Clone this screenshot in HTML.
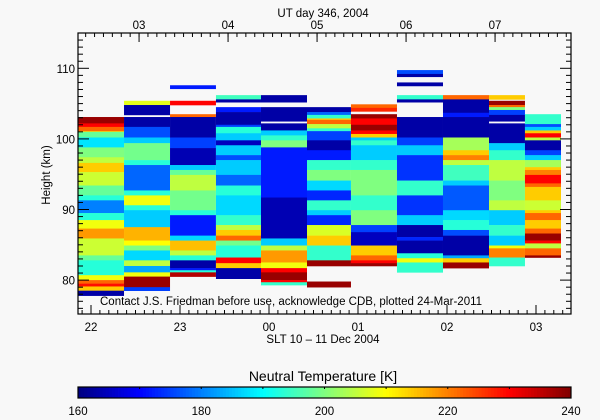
<!DOCTYPE html>
<html><head><meta charset="utf-8">
<style>
html,body{margin:0;padding:0;background:#f8f8f8;}
svg{display:block;font-family:"Liberation Sans",sans-serif;}
text{fill:#000;}
</style></head>
<body>
<svg id="chart" width="600" height="420" viewBox="0 0 600 420" xmlns="http://www.w3.org/2000/svg">
<rect x="0" y="0" width="600" height="420" fill="#f8f8f8"/>
<g id="cells"></g>
<g id="axes"></g>
<g id="cbar"></g>
<text x="323" y="17" font-size="11.5" text-anchor="middle">UT day 346, 2004</text>
<text x="100" y="305" font-size="11.5">Contact J.S. Friedman before use, acknowledge CDB, plotted 24-Mar-2011</text>
<text x="323" y="343" font-size="11.5" text-anchor="middle">SLT 10 – 11 Dec 2004</text>
<text transform="translate(50,175) rotate(-90)" font-size="11.5" text-anchor="middle">Height (km)</text>
<text x="323" y="381" font-size="14" text-anchor="middle">Neutral Temperature [K]</text>
</svg>
<script>
// Column start/end times (SLT hours, >24 = next day)
const colEdges = [21.854,22.371,22.888,23.404,23.910,24.427,24.921,25.438,25.955,26.472,26.876,27.281];
// Height boundaries (km, top -> bottom) per column
const bounds = [
 [103.1,102.2,101.7,101.1,101.0,100.2,98.8,97.4,96.6,95.3,93.4,92.0,91.3,89.5,88.5,87.3,85.9,83.5,82.8,80.7,80.0,79.5,79.1,78.5,77.8],
 [105.4,104.8,103.4,103.1,101.7,100.2,99.4,97.0,96.3,92.7,92.0,90.6,89.9,87.5,85.6,84.9,84.2,82.8,82.0,81.1,80.5,79.0,78.5],
 [107.6,107.1,105.4,104.8,103.5,103.1,100.2,98.7,96.3,95.6,94.9,92.7,89.9,89.2,86.3,85.6,84.2,83.5,82.8,81.7,81.4,81.1,80.5],
 [106.2,105.6,105.2,104.5,103.8,102.0,101.7,100.8,99.8,99.1,97.7,97.0,94.9,93.4,92.0,89.2,87.8,87.1,86.3,85.6,84.9,83.2,82.4,81.7,80.2],
 [106.2,105.2,104.5,102.5,102.2,101.2,100.5,99.8,98.8,91.7,85.9,84.9,84.2,82.5,81.7,81.1,80.0,79.7,79.3],
 [104.5,103.8,103.4,102.9,102.7,102.1,101.5,101.1,99.8,98.4,97.0,95.6,94.1,92.7,91.3,89.9,89.2,87.8,86.3,84.9,82.8,82.0,79.8,79.0],
 [104.9,104.4,103.9,103.5,102.9,102.0,101.2,100.7,100.2,99.8,99.1,97.0,95.6,92.0,89.9,87.8,86.8,84.9,83.5,82.8,82.4,82.0],
 [109.75,109.2,108.8,108.0,107.5,106.2,105.6,105.2,103.1,100.2,99.1,97.7,94.1,92.0,89.2,87.8,86.1,85.6,83.8,83.1,82.5,81.1],
 [106.2,105.6,103.7,103.1,100.2,98.4,97.7,97.0,96.3,94.1,93.4,89.9,88.5,87.1,86.3,83.5,83.1,82.5,81.7],
 [106.2,105.6,105.4,104.8,104.5,104.1,103.4,102.5,102.2,99.4,98.4,97.0,94.1,91.3,89.9,87.8,86.3,84.9,84.5,83.2,82.0],
 [103.5,102.1,101.7,101.2,100.8,100.2,99.8,98.4,97.7,97.0,96.0,95.6,94.9,93.7,93.2,91.3,89.9,89.5,88.5,87.3,86.6,85.6,85.2,84.5,83.5,83.2]
];
// Temperatures (K) for each layer between boundaries; null = no data
const temps = [
 [238,230,222,214,198,188,200,205,214,206,198,193,180,193,209,218,206,198,193,209,222,229,214,163],
 [208,163,null,163,176,186,199,193,178,193,209,193,186,216,210,200,187,205,183,209,238,175],
 [172,null,230,null,222,163,175,164,186,198,205,199,193,172,187,215,205,193,163,172,193,236],
 [195,163,null,172,163,175,193,186,165,186,176,186,178,193,187,194,205,214,222,199,193,230,214,163],
 [163,null,163,null,163,186,194,200,172,164,186,205,218,209,230,238,230,194],
 [163,178,194,214,222,205,194,175,163,172,194,200,187,173,194,186,173,207,214,194,238,null,238],
 [222,227,null,238,230,238,230,214,186,194,186,194,200,194,200,175,165,214,222,230,238],
 [176,163,null,163,null,194,163,null,163,175,186,174,194,174,186,163,173,163,193,209,194],
 [222,163,172,163,203,214,220,205,195,186,177,187,193,176,163,183,214,238],
 [214,null,238,222,200,175,163,null,163,186,194,205,200,205,186,194,186,209,220,194],
 [194,176,186,214,230,205,163,175,186,203,214,220,230,222,214,206,214,222,214,222,238,230,205,222,238]
];
const yMajorTicks = [80,90,100,110];
const sltTickHours = [22,23,24,25,26,27];
const sltTickLabels = ["22","23","00","01","02","03"];
const utTickHours = [3,4,5,6,7];
const utTickLabels = ["03","04","05","06","07"];
const cbarTicks = [160,180,200,220,240];

const NS="http://www.w3.org/2000/svg";
const X0=78,X1=571,Y0=33,Y1=314;
const KM_TOP=115,KM_BOT=75.2;
const TMIN=160,TMAX=240;
const UT_OFFSET=4.46;
function xs(h){return 91+(h-22)*89;}
function ys(km){return Y0+(KM_TOP-km)*(Y1-Y0)/(KM_TOP-KM_BOT);}
function clamp(v){return Math.max(0,Math.min(1,v));}
function jet(t){
  t=clamp(t);
  const r=clamp(1.5-Math.abs(4*t-3)),g=clamp(1.5-Math.abs(4*t-2)),b=clamp(1.5-Math.abs(4*t-1));
  return `rgb(${Math.round(r*255)},${Math.round(g*255)},${Math.round(b*255)})`;
}
function tcol(T){return jet((T-TMIN)/(TMAX-TMIN));}
function mk(tag,attrs,parent){const e=document.createElementNS(NS,tag);for(const k in attrs)e.setAttribute(k,attrs[k]);parent.appendChild(e);return e;}

const cells=document.getElementById('cells');
for(let c=0;c<bounds.length;c++){
  const xa=xs(colEdges[c]),xb=xs(colEdges[c+1]);
  for(let i=0;i<temps[c].length;i++){
    const T=temps[c][i]; if(T===null) continue;
    const ya=ys(bounds[c][i]),yb=ys(bounds[c][i+1]);
    const r=mk('rect',{x:xa.toFixed(2),y:ya.toFixed(2),width:(xb-xa).toFixed(2),height:(yb-ya+0.3).toFixed(2),fill:tcol(T)},cells);
    
    
  }
}

const ax=document.getElementById('axes');
const frame=mk('rect',{x:X0,y:Y0,width:X1-X0,height:Y1-Y0,fill:'none',stroke:'#000','stroke-width':1.2},ax);


for(let k=76;k<=114;k++){
  const y=ys(k); const major=(k%10===0); const L=major?11:5;
  mk('line',{x1:X0,y1:y,x2:X0+L,y2:y,stroke:'#000','stroke-width':1},ax);
  mk('line',{x1:X1,y1:y,x2:X1-L,y2:y,stroke:'#000','stroke-width':1},ax);
}
yMajorTicks.forEach(v=>{
  const t=mk('text',{x:75,y:ys(v)+4.5,'font-size':11.5,'text-anchor':'end'},ax);
  t.textContent=String(v);
  
  
});
for(let h=21.9;h<27.4;h+=0.1){
  const x=xs(h); if(x<X0||x>X1) continue;
  mk('line',{x1:x,y1:Y1,x2:x,y2:Y1-4,stroke:'#000','stroke-width':1},ax);
}
sltTickHours.forEach((h,i)=>{
  const x=xs(h);
  mk('line',{x1:x,y1:Y1,x2:x,y2:Y1-9,stroke:'#000','stroke-width':1},ax);
  const t=mk('text',{x:x,y:331,'font-size':11.5,'text-anchor':'middle'},ax);
  t.textContent=sltTickLabels[i];
  
  
});
for(let u=2.4;u<=8;u+=0.1){
  const x=xs(u+24-UT_OFFSET);
  if(x<X0||x>X1) continue;
  mk('line',{x1:x,y1:Y0,x2:x,y2:Y0+4,stroke:'#000','stroke-width':1},ax);
}
utTickHours.forEach((u,i)=>{
  const x=xs(u+24-UT_OFFSET);
  mk('line',{x1:x,y1:Y0,x2:x,y2:Y0+9,stroke:'#000','stroke-width':1},ax);
  const t=mk('text',{x:x,y:29,'font-size':11.5,'text-anchor':'middle'},ax);
  t.textContent=utTickLabels[i];
  
  
});

const cb=document.getElementById('cbar');
const CX0=78,CX1=571,CY0=387,CY1=398;
const N=160;
for(let i=0;i<N;i++){
  const xa=CX0+(CX1-CX0)*i/N,xb=CX0+(CX1-CX0)*(i+1)/N;
  const r=mk('rect',{x:xa.toFixed(2),y:CY0,width:(xb-xa+0.4).toFixed(2),height:CY1-CY0,fill:jet((i+0.5)/N)},cb);
  
  
}
mk('rect',{x:CX0,y:CY0,width:CX1-CX0,height:CY1-CY0,fill:'none',stroke:'#000','stroke-width':1.2},cb);
for(let v=170;v<240;v+=10){
  const x=CX0+(v-TMIN)/(TMAX-TMIN)*(CX1-CX0);
  mk('line',{x1:x,y1:CY0,x2:x,y2:CY0+2,stroke:'#000','stroke-width':1},cb);
}
cbarTicks.forEach(v=>{
  const x=CX0+(v-TMIN)/(TMAX-TMIN)*(CX1-CX0);
  const t=mk('text',{x:x,y:415,'font-size':11.5,'text-anchor':'middle'},cb);
  t.textContent=String(v);
  
  
});
</script>
</body></html>
